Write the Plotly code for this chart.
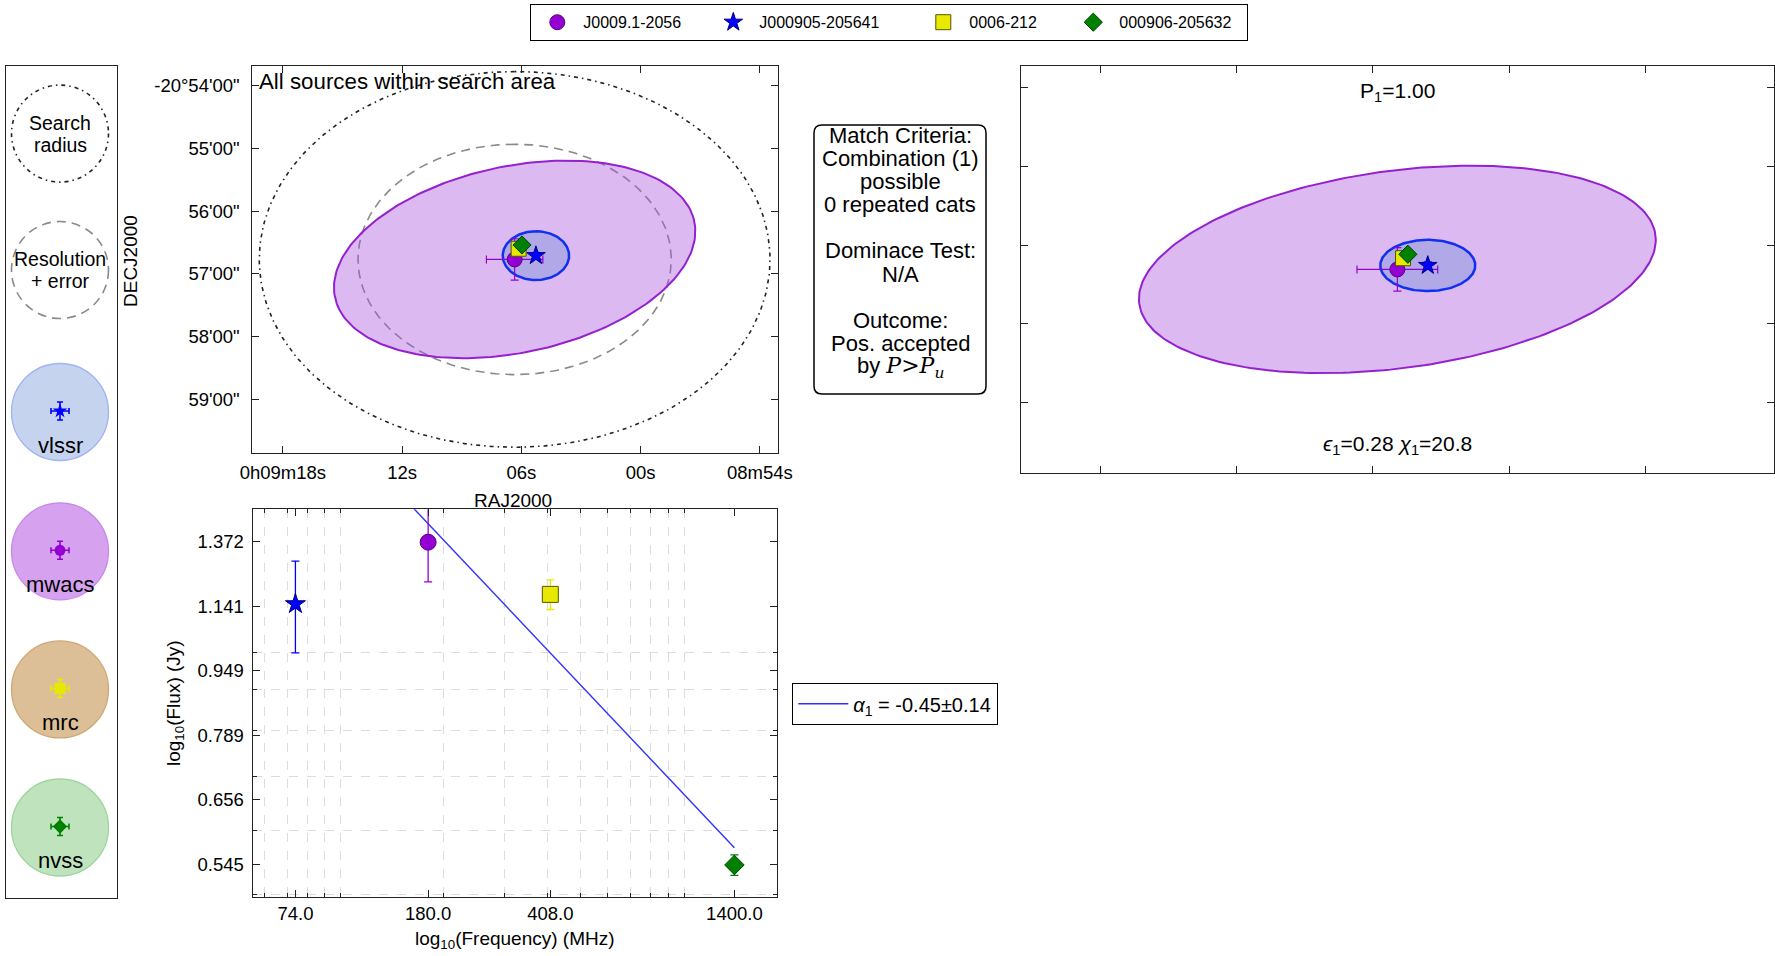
import numpy as np
import plotly.graph_objects as go

W, H = 1775, 956
FONT = "Liberation Sans, Arial, Helvetica, sans-serif"

# ------------------------------------------------------------------ data
source_names = ["J0009.1-2056", "J000905-205641", "0006-212", "000906-205632"]
catalogs = ["mwacs", "vlssr", "mrc", "nvss"]
freq_mhz = [180.0, 74.0, 408.0, 1400.0]
flux_jy = [1.370, 1.148, 1.180, 0.544]
flux_err_jy = [0.147, 0.150, 0.050, 0.016]
ra_sec = [6.34, 5.27, 6.14, 5.97]            # seconds after 0h09m00s
dec_arcmin = [-56.77, -56.71, -56.60, -56.54]  # arcmin after -20d00m
ra_err_sec = [1.42, 0.12, 0.10, 0.05]
dec_err_arcmin = [0.33, 0.05, 0.05, 0.03]

# positional error ellipses (semi-axes in arcsec, PA in deg east of north)
ellipse_cats = ["mwacs", "vlssr"]
ellipse_major_arcsec = [132.6, 23.4]
ellipse_minor_arcsec = [87.2, 23.4]
ellipse_pa_deg = [111.7, 0.0]

search_radius_arcmin = 3.0
resolution_radius_arcmin = 1.84

fit_alpha = -0.452
fit_alpha_err = 0.14
fit_ref_freq = 1400.0
fit_ref_flux = 0.5715

prob_p1 = 1.00
eps_1 = 0.28
chi_1 = 20.8

ra_ticks = [18, 12, 6, 0, -6]
ra_ticklabels = ["0h09m18s", "12s", "06s", "00s", "08m54s"]
dec_ticks = [-54, -55, -56, -57, -58, -59]
dec_ticklabels = ["-20°54'00\"", "55'00\"", "56'00\"", "57'00\"", "58'00\"", "59'00\""]
zoom_ra_ticks = [16.8, 12.0, 7.2, 2.4, -2.4]
zoom_dec_ticks = [-54.0, -55.2, -56.4, -57.6, -58.8]
freq_ticks = [74.0, 180.0, 408.0, 1400.0]
freq_ticklabels = ["74.0", "180.0", "408.0", "1400.0"]
freq_minor = [60, 70, 80, 90, 100, 200, 300, 400, 500, 600, 700, 800, 900, 1000]
flux_ticks = [0.545, 0.656, 0.789, 0.949, 1.141, 1.372]
flux_ticklabels = ["0.545", "0.656", "0.789", "0.949", "1.141", "1.372"]
flux_minor = [0.5, 0.6, 0.7, 0.8, 0.9, 1.0]

match_lines = ["Match Criteria:", "Combination (1)", "possible", "0 repeated cats", "",
               "Dominace Test:", "N/A", "", "Outcome:", "Pos. accepted",
               "by <span style='font-family:DejaVu Serif'><i>P</i>&gt;<i>P</i><sub><i>u</i></sub></span>"]

# ------------------------------------------------------------------ styles
cat_color = {"mwacs": "#9400d3", "vlssr": "#0000ff", "mrc": "#e8e800", "nvss": "#008000"}
cat_edge = {"mwacs": "#5a0080", "vlssr": "#000080", "mrc": "#555500", "nvss": "#004000"}
cat_symbol = {"mwacs": "circle", "vlssr": "star", "mrc": "square", "nvss": "diamond"}
cat_size = {"mwacs": 15, "vlssr": 14, "mrc": 15, "nvss": 14}
legend_entry_w = {"mwacs": 119, "vlssr": 153, "mrc": 93, "nvss": 122}
ell_fill = {"mwacs": "rgba(167,80,217,0.40)", "vlssr": "rgba(110,142,217,0.40)"}
ell_line = {"mwacs": "#9420d0", "vlssr": "#1030f0"}
ell_width = {"mwacs": 2, "vlssr": 2.5}
panel_fill = {"vlssr": "#c6d3ef", "mwacs": "#d6a2f0", "mrc": "#ddbf97", "nvss": "#bfe4bd"}
panel_edge = {"vlssr": "#9fb3f2", "mwacs": "#c48ae6", "mrc": "#cfa878", "nvss": "#9fd59d"}


def px(x):
    return x / W


def py(y):
    return 1 - y / H


DEC0_DEG = -20.0


def sky_ellipse(ra0, dec0, a_arcsec, b_arcsec, pa_deg, n=240):
    t = np.linspace(0, 2 * np.pi, n)
    a = a_arcsec / 60.0
    b = b_arcsec / 60.0
    pa = np.radians(pa_deg)
    d_east = a * np.cos(t) * np.sin(pa) + b * np.sin(t) * np.cos(pa)
    d_north = a * np.cos(t) * np.cos(pa) - b * np.sin(t) * np.sin(pa)
    cosd = np.cos(np.radians(DEC0_DEG + dec0 / 60.0))
    ra = ra0 + d_east / (0.25 * cosd)
    dec = dec0 + d_north
    return ra, dec


fig = go.Figure()

idx = {c: i for i, c in enumerate(catalogs)}
i0 = idx["mwacs"]

# ---------------- sky plot (x/y) and zoomed sky plot (x3/y3)
for axx, axy, with_circles in (("x", "y", True), ("x3", "y3", False)):
    if with_circles:
        r, d = sky_ellipse(ra_sec[i0], dec_arcmin[i0], search_radius_arcmin * 60,
                           search_radius_arcmin * 60, 0)
        fig.add_trace(go.Scatter(x=r, y=d, mode="lines", xaxis=axx, yaxis=axy,
                                 line=dict(color="#222222", width=1.6, dash="4px,4px,1.5px,4px"),
                                 showlegend=False, hoverinfo="skip"))
        r, d = sky_ellipse(ra_sec[i0], dec_arcmin[i0], resolution_radius_arcmin * 60,
                           resolution_radius_arcmin * 60, 0)
        fig.add_trace(go.Scatter(x=r, y=d, mode="lines", xaxis=axx, yaxis=axy,
                                 line=dict(color="#8a8a8a", width=1.6, dash="9px,6px"),
                                 showlegend=False, hoverinfo="skip"))
    for k, cat in enumerate(ellipse_cats):
        i = idx[cat]
        r, d = sky_ellipse(ra_sec[i], dec_arcmin[i], ellipse_major_arcsec[k],
                           ellipse_minor_arcsec[k], ellipse_pa_deg[k])
        fig.add_trace(go.Scatter(x=r, y=d, mode="lines", fill="toself",
                                 fillcolor=ell_fill[cat], xaxis=axx, yaxis=axy,
                                 line=dict(color=ell_line[cat], width=ell_width[cat]),
                                 showlegend=False, hoverinfo="skip"))
    for i, cat in enumerate(catalogs):
        fig.add_trace(go.Scatter(
            x=[ra_sec[i]], y=[dec_arcmin[i]], mode="markers", xaxis=axx, yaxis=axy,
            name=source_names[i], showlegend=with_circles, legendwidth=legend_entry_w[cat],
            marker=dict(symbol=cat_symbol[cat], size=cat_size[cat], color=cat_color[cat],
                        line=dict(color=cat_edge[cat], width=1)),
            error_x=dict(type="data", array=[ra_err_sec[i]], color=cat_color[cat],
                         thickness=1.2, width=4),
            error_y=dict(type="data", array=[dec_err_arcmin[i]], color=cat_color[cat],
                         thickness=1.2, width=4)))

# ---------------- spectrum (x2/y2)
fit_f = np.array([min(freq_mhz), max(freq_mhz)])
fit_s = fit_ref_flux * (fit_f / fit_ref_freq) ** fit_alpha
fig.add_trace(go.Scatter(x=fit_f, y=fit_s, mode="lines", xaxis="x2", yaxis="y2",
                         line=dict(color="#3030ff", width=1.4), legend="legend2",
                         name="<i>α</i><sub>1</sub> = %.2f\u00b1%.2f" % (fit_alpha, fit_alpha_err)))
for i, cat in enumerate(catalogs):
    fig.add_trace(go.Scatter(
        x=[freq_mhz[i]], y=[flux_jy[i]], mode="markers", xaxis="x2", yaxis="y2",
        showlegend=False,
        marker=dict(symbol=cat_symbol[cat], size=cat_size[cat] + 1, color=cat_color[cat],
                    line=dict(color=cat_edge[cat], width=1)),
        error_y=dict(type="data", array=[flux_err_jy[i]], color=cat_color[cat],
                     thickness=1.3, width=4)))

# ---------------- left catalogue panel (x4/y4)
panel_slots = [67.6, 204.0, 346.0, 485.3, 623.4, 761.5]
panel_cx, panel_r = 54.0, 48.5
panel_order = ["vlssr", "mwacs", "mrc", "nvss"]
shapes = []
shapes.append(dict(type="circle", xref="x4", yref="y4",
                   x0=panel_cx - panel_r, x1=panel_cx + panel_r,
                   y0=panel_slots[0] - panel_r, y1=panel_slots[0] + panel_r,
                   line=dict(color="#222222", width=1.6, dash="4px,4px,1.5px,4px")))
shapes.append(dict(type="circle", xref="x4", yref="y4",
                   x0=panel_cx - panel_r, x1=panel_cx + panel_r,
                   y0=panel_slots[1] - panel_r, y1=panel_slots[1] + panel_r,
                   line=dict(color="#8a8a8a", width=1.6, dash="9px,6px")))
for k, cat in enumerate(panel_order):
    cy = panel_slots[k + 2]
    shapes.append(dict(type="circle", xref="x4", yref="y4", layer="below",
                       x0=panel_cx - panel_r, x1=panel_cx + panel_r,
                       y0=cy - panel_r, y1=cy + panel_r,
                       fillcolor=panel_fill[cat], line=dict(color=panel_edge[cat], width=1.3)))
    fig.add_trace(go.Scatter(
        x=[panel_cx], y=[cy - 1], mode="markers", xaxis="x4", yaxis="y4", showlegend=False,
        marker=dict(symbol=cat_symbol[cat], size=11, color=cat_color[cat],
                    line=dict(width=0)),
        error_x=dict(type="constant", value=9, color=cat_color[cat], thickness=1.6, width=3),
        error_y=dict(type="constant", value=9, color=cat_color[cat], thickness=1.6, width=3)))

annotations = []


def ann(text, x, y, size, xref="paper", yref="paper", angle=0, xanchor="center",
        yanchor="middle", family=FONT):
    annotations.append(dict(text=text, x=x, y=y, xref=xref, yref=yref, showarrow=False,
                            textangle=angle, xanchor=xanchor, yanchor=yanchor,
                            font=dict(size=size, family=family, color="black")))


ann("Search", panel_cx, panel_slots[0] - 11, 19.5, "x4", "y4")
ann("radius", panel_cx, panel_slots[0] + 11, 19.5, "x4", "y4")
ann("Resolution", panel_cx, panel_slots[1] - 11, 19.5, "x4", "y4")
ann("+ error", panel_cx, panel_slots[1] + 11, 19.5, "x4", "y4")
for k, cat in enumerate(panel_order):
    ann(cat, panel_cx, panel_slots[k + 2] + 33, 22, "x4", "y4")

# text on plots
ann("All sources within search area", 0.011, 0.9605, 22.3, "x domain", "y domain",
    xanchor="left")
ann("P<sub>1</sub>=%.2f" % prob_p1, 0.5, 0.936, 21, "x3 domain", "y3 domain")
ann("<i>ϵ</i><sub>1</sub>=%.2f <i>χ</i><sub>1</sub>=%.1f" % (eps_1, chi_1), 0.5, 0.069, 21,
    "x3 domain", "y3 domain")

# axis titles
ann("RAJ2000", px(513), py(500), 19)
ann("DECJ2000", px(130), py(261), 19, angle=-90)
ann("log<sub>10</sub>(Frequency) (MHz)", px(515), py(940), 19)
ann("log<sub>10</sub>(Flux) (Jy)", px(175), py(703), 19, angle=-90)

# match criteria box
bx0, bx1, by0, by1, rad = 814, 986, 125, 394, 8
path = ("M {a},{b} L {c},{b} Q {d},{b} {d},{e} L {d},{f} Q {d},{g} {c},{g} "
        "L {a},{g} Q {h},{g} {h},{f} L {h},{e} Q {h},{b} {a},{b} Z").format(
    a=px(bx0 + rad), b=py(by0), c=px(bx1 - rad), d=px(bx1), e=py(by0 + rad),
    f=py(by1 - rad), g=py(by1), h=px(bx0))
shapes.append(dict(type="path", xref="paper", yref="paper", path=path,
                   line=dict(color="black", width=1.5), fillcolor="white"))
for k, line in enumerate(match_lines):
    if line:
        ann(line, px((bx0 + bx1) / 2), py(135 + 23.2 * k), 22)

axis_common = dict(showline=True, linecolor="#222222", linewidth=1.3, mirror="allticks",
                   ticks="inside", ticklen=7, tickcolor="#222222", tickwidth=1,
                   showgrid=False, zeroline=False, automargin=False,
                   tickfont=dict(size=18.5, family=FONT, color="black"))

fig.update_layout(
    width=W, height=H, autosize=False,
    margin=dict(l=0, r=0, t=0, b=0, pad=0, autoexpand=False),
    paper_bgcolor="white", plot_bgcolor="white",
    font=dict(family=FONT, color="black"),
    xaxis=dict(domain=[px(251.5), px(778)], range=[19.58, -6.91], tickmode="array",
               tickvals=ra_ticks, ticktext=ra_ticklabels, anchor="y",
               ticklabelstandoff=2, **axis_common),
    yaxis=dict(domain=[py(453.3), py(65.7)], range=[-59.867, -53.676], tickmode="array",
               tickvals=dec_ticks, ticktext=dec_ticklabels, anchor="x",
               ticklabelstandoff=7, **axis_common),
    xaxis2=dict(domain=[px(252.7), px(777)], type="log", range=[1.745, 3.270],
                tickmode="array", tickvals=freq_ticks, ticktext=freq_ticklabels, anchor="y2",
                ticklabelstandoff=0,
                minor=dict(tickmode="array", tickvals=freq_minor, ticks="inside", ticklen=4,
                           tickcolor="#222222", showgrid=True, gridcolor="#dcdcdc",
                           griddash="dash", gridwidth=1),
                **axis_common),
    yaxis2=dict(domain=[py(896.7), py(509.3)], type="log", range=[-0.30387, 0.17762],
                tickmode="array", tickvals=flux_ticks, ticktext=flux_ticklabels, anchor="x2",
                ticklabelstandoff=4,
                minor=dict(tickmode="array", tickvals=flux_minor, ticks="inside", ticklen=4,
                           tickcolor="#222222", showgrid=True, gridcolor="#dcdcdc",
                           griddash="dash", gridwidth=1),
                **axis_common),
    xaxis3=dict(domain=[px(1021), px(1774)], range=[19.58, -6.91], tickmode="array",
                tickvals=zoom_ra_ticks, showticklabels=False, anchor="y3", **axis_common),
    yaxis3=dict(domain=[py(473), py(66)], range=[-59.867, -53.676], tickmode="array",
                tickvals=zoom_dec_ticks, showticklabels=False, anchor="x3", **axis_common),
    xaxis4=dict(domain=[px(6), px(117)], range=[0, 111], showline=True, mirror=True,
                linecolor="#222222", linewidth=1.3, showticklabels=False, ticks="",
                showgrid=False, zeroline=False, anchor="y4", fixedrange=True,
                automargin=False),
    yaxis4=dict(domain=[py(898), py(66)], range=[832, 0], showline=True, mirror=True,
                linecolor="#222222", linewidth=1.3, showticklabels=False, ticks="",
                showgrid=False, zeroline=False, anchor="x4", fixedrange=True,
                automargin=False),
    legend=dict(orientation="h", x=px(530), y=py(4), xanchor="left", yanchor="top",
                bordercolor="black", borderwidth=1.3, bgcolor="white", itemwidth=42,
                entrywidthmode="pixels", tracegroupgap=0,
                font=dict(size=16, family=FONT, color="black")),
    legend2=dict(x=px(792), y=py(683), xanchor="left", yanchor="top",
                 bordercolor="black", borderwidth=1.3, bgcolor="white", itemwidth=50,
                 font=dict(size=20, family=FONT, color="black")),
    shapes=shapes,
    annotations=annotations,
)

fig.write_html("out.html", config={"displayModeBar": False},
               post_script="document.body.style.margin='0px';")
